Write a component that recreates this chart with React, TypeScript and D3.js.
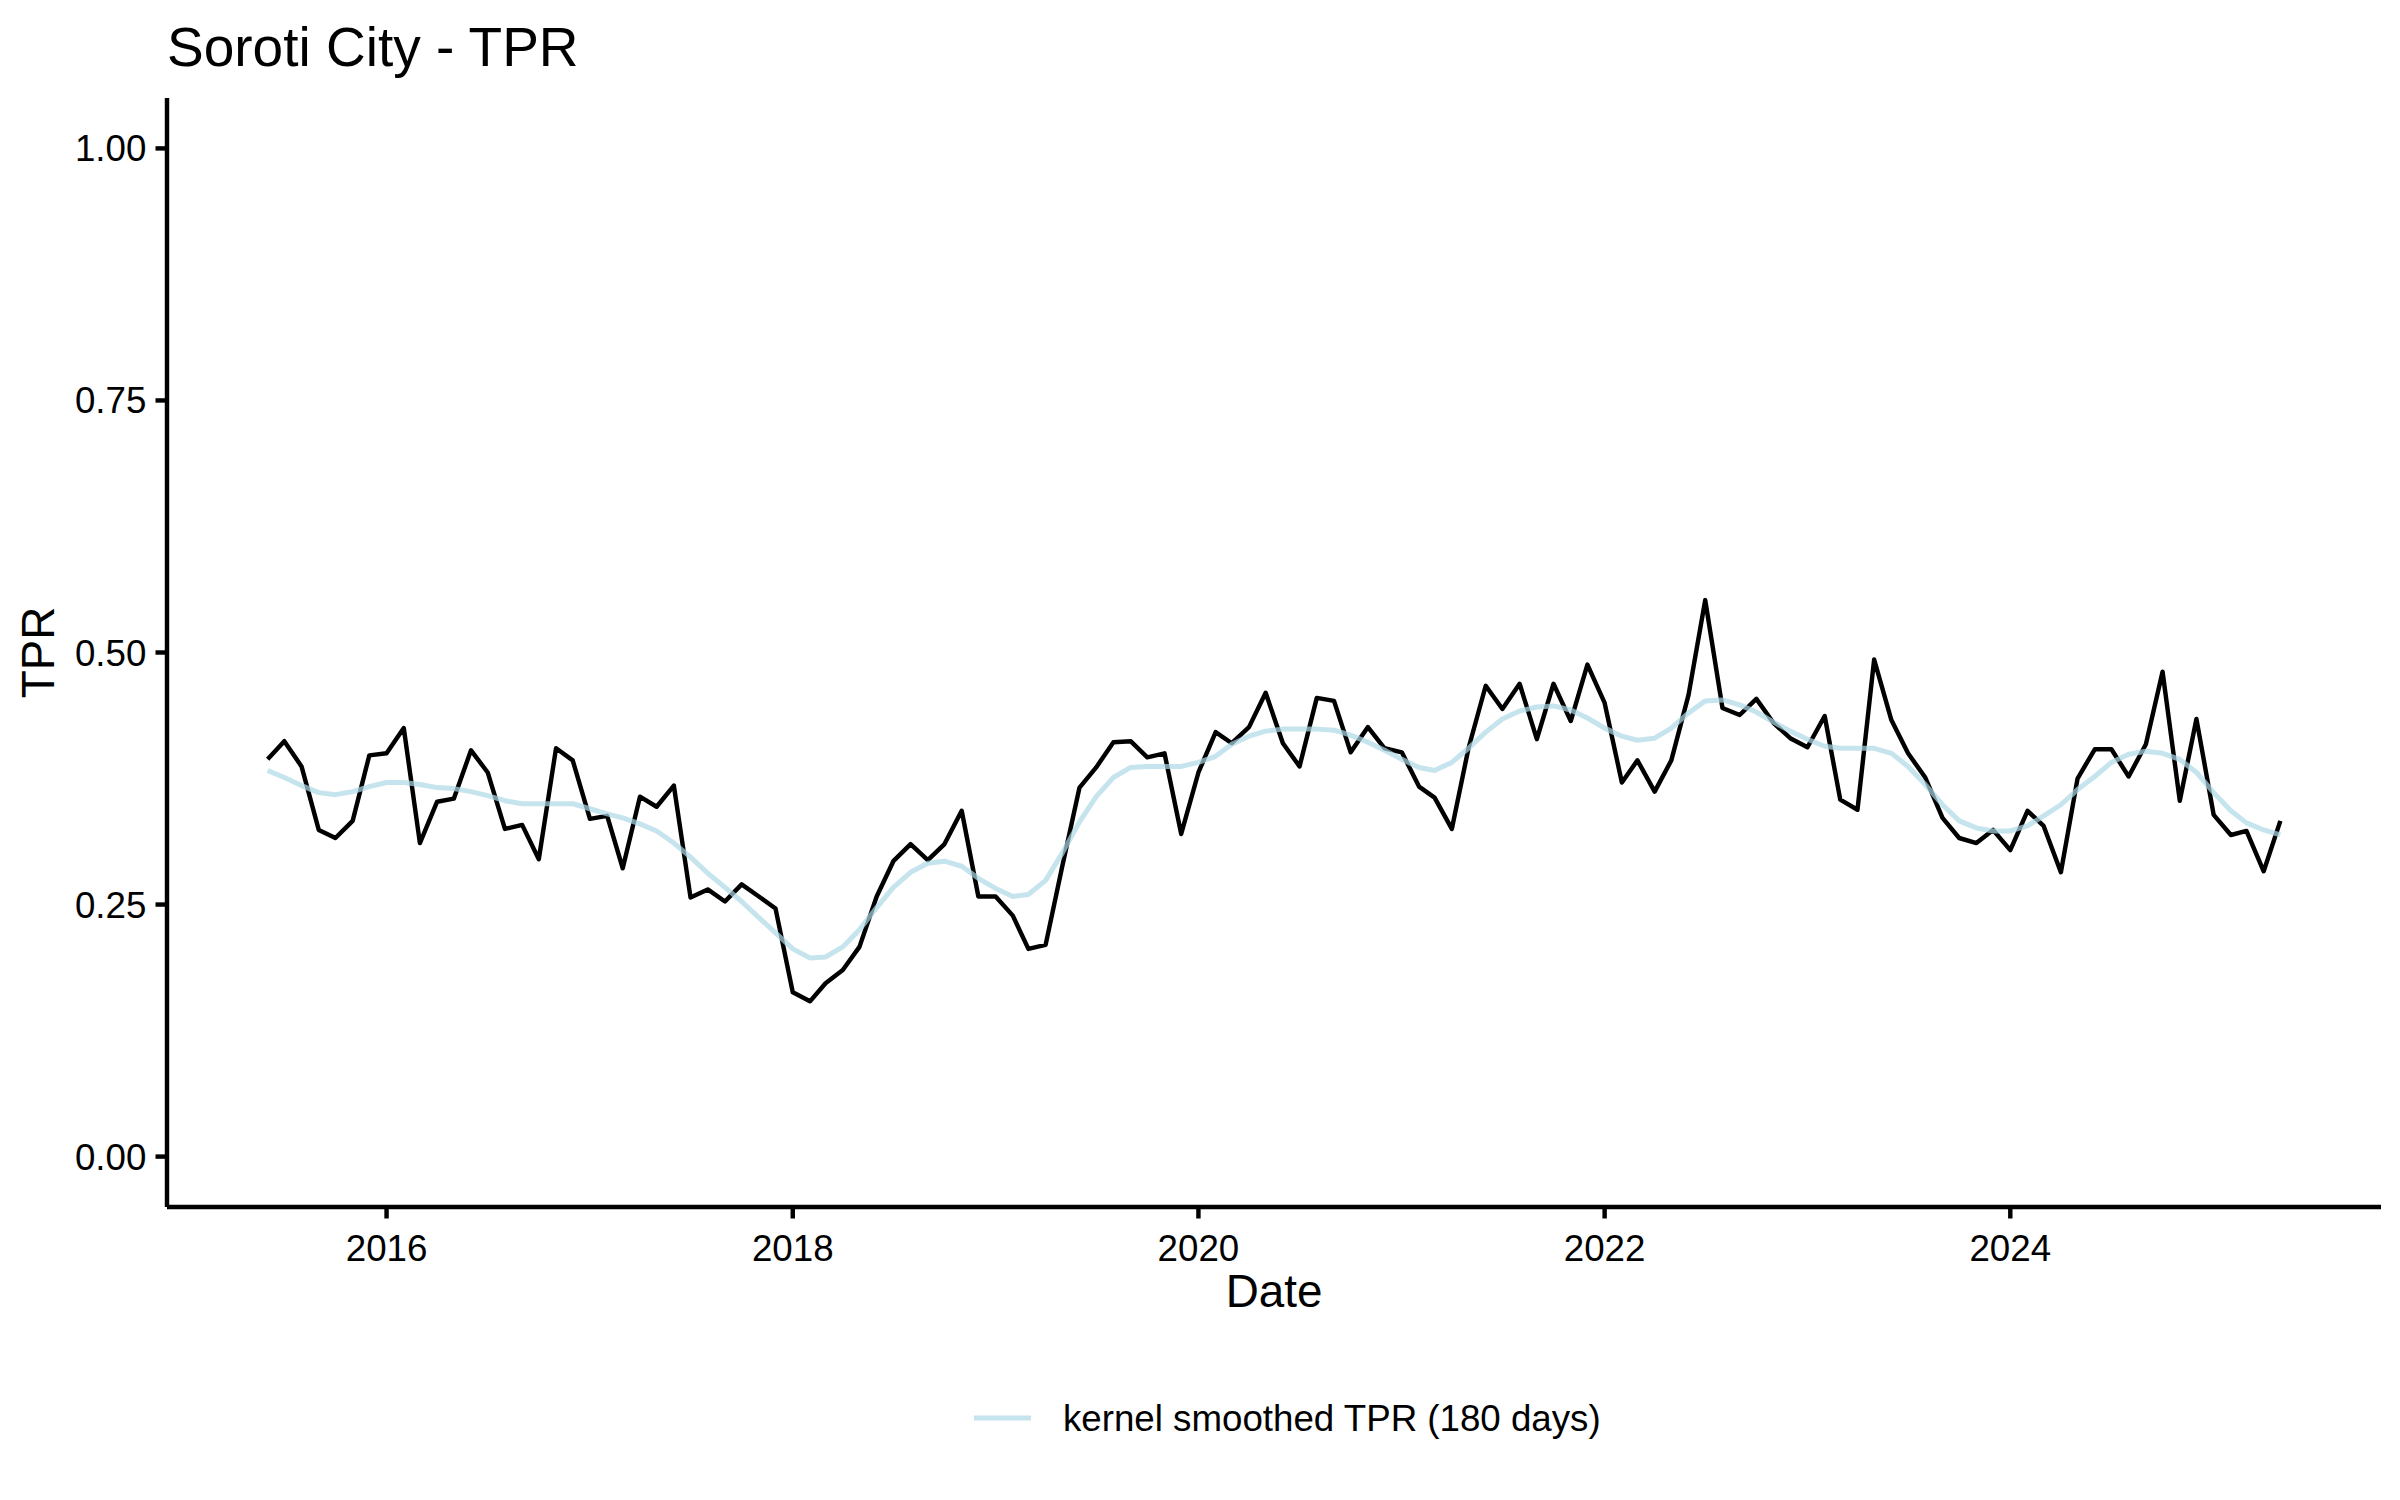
import React from "react";
import * as d3 from "d3";

const TITLE = "Soroti City - TPR";
const X_TITLE = "Date";
const Y_TITLE = "TPR";
const LEGEND_LABEL = "kernel smoothed TPR (180 days)";

const START_MONTH = "2015-06-01";
const END_MONTH = "2025-05-01";

const Y_TICKS = [0, 0.25, 0.5, 0.75, 1.0];
const X_TICK_YEARS = [2016, 2018, 2020, 2022, 2024];

const tpr = [
  0.394, 0.412, 0.387, 0.324, 0.316, 0.333, 0.398, 0.400, 0.425, 0.311,
  0.352, 0.355, 0.403, 0.381, 0.325, 0.329, 0.295, 0.405, 0.393, 0.335,
  0.338, 0.286, 0.357, 0.347, 0.368, 0.257, 0.265, 0.253, 0.270, 0.258,
  0.246, 0.163, 0.154, 0.172, 0.185, 0.208, 0.258, 0.293, 0.310, 0.294,
  0.310, 0.343, 0.258, 0.258, 0.239, 0.206, 0.210, 0.288, 0.366, 0.386,
  0.411, 0.412, 0.396, 0.400, 0.320, 0.381, 0.421, 0.410, 0.426, 0.460,
  0.410, 0.387, 0.455, 0.452, 0.401, 0.426, 0.405, 0.401, 0.367, 0.356,
  0.325, 0.405, 0.467, 0.444, 0.469, 0.414, 0.469, 0.432, 0.488, 0.450,
  0.371, 0.393, 0.362, 0.393, 0.458, 0.552, 0.445, 0.438, 0.454, 0.430,
  0.415, 0.406, 0.437, 0.354, 0.344, 0.493, 0.433, 0.400, 0.376, 0.336,
  0.316, 0.311, 0.324, 0.304, 0.343, 0.328, 0.282, 0.375, 0.404, 0.404,
  0.377, 0.409, 0.481, 0.353, 0.434, 0.339, 0.319, 0.323, 0.283, 0.333,
];

const smoothed = [
  0.383, 0.376, 0.368, 0.361, 0.359, 0.362, 0.367, 0.371, 0.371, 0.369,
  0.366, 0.365, 0.362, 0.358, 0.353, 0.350, 0.350, 0.350, 0.350, 0.345,
  0.340, 0.336, 0.330, 0.323, 0.311, 0.297, 0.281, 0.267, 0.253, 0.237,
  0.222, 0.206, 0.197, 0.198, 0.208, 0.225, 0.247, 0.267, 0.282, 0.291,
  0.293, 0.288, 0.276, 0.266, 0.258, 0.260, 0.274, 0.301, 0.332, 0.357,
  0.376, 0.386, 0.387, 0.387, 0.387, 0.391, 0.397, 0.409, 0.417, 0.422,
  0.424, 0.424, 0.424, 0.423, 0.418, 0.411, 0.403, 0.394, 0.386, 0.383,
  0.391, 0.405, 0.421, 0.434, 0.442, 0.446, 0.447, 0.443, 0.435, 0.425,
  0.417, 0.413, 0.415, 0.425, 0.440, 0.452, 0.453, 0.448, 0.441, 0.431,
  0.422, 0.414, 0.407, 0.405, 0.405, 0.405, 0.400, 0.387, 0.369, 0.349,
  0.333, 0.326, 0.323, 0.323, 0.328, 0.338, 0.349, 0.364, 0.377, 0.391,
  0.399, 0.402, 0.400, 0.394, 0.381, 0.361, 0.343, 0.331, 0.324, 0.319,
];

const FONT = "'Liberation Sans', Arial, Helvetica, sans-serif";
const W = 2400;
const H = 1500;
const PANEL = { left: 167, right: 2381, top: 98, bottom: 1207 };
const LW = 4.44;
const TICK = 11.5;

export default function App() {
  const start = new Date(START_MONTH + "T00:00:00Z");
  const end = new Date(END_MONTH + "T00:00:00Z");
  const dates = d3.utcMonth.range(start, d3.utcMonth.offset(end, 1));

  const span = end.getTime() - start.getTime();
  const xDomain = [new Date(start.getTime() - span * 0.05), new Date(end.getTime() + span * 0.05)];
  const x = d3.scaleUtc().domain(xDomain).range([PANEL.left, PANEL.right]);
  const y = d3.scaleLinear().domain([-0.05, 1.05]).range([PANEL.bottom, PANEL.top]);

  const rawData = dates.map((d, i) => ({ d, v: tpr[i] })).filter((p) => p.v !== undefined);
  const smData = dates.map((d, i) => ({ d, v: smoothed[i] })).filter((p) => p.v !== undefined);

  const line = d3
    .line<{ d: Date; v: number }>()
    .x((p) => x(p.d))
    .y((p) => y(p.v));

  const xTicks = X_TICK_YEARS.map((yr) => new Date(Date.UTC(yr, 0, 1)));
  const fmt = d3.format(".2f");

  const legendY = 1418;

  return (
    <svg
      width={W}
      height={H}
      viewBox={`0 0 ${W} ${H}`}
      style={{ position: "absolute", left: 0, top: 0, background: "#fff" }}
      fontFamily={FONT}
    >
      <rect x={0} y={0} width={W} height={H} fill="#fff" />
      {/* title */}
      <text x={PANEL.left} y={66} fontSize={55} fill="#000">
        {TITLE}
      </text>

      {/* data lines */}
      <path d={line(rawData) || ""} fill="none" stroke="#000" strokeWidth={LW} strokeLinejoin="round" />
      <path
        d={line(smData) || ""}
        fill="none"
        stroke="#ADD8E6"
        strokeOpacity={0.7}
        strokeWidth={5}
        strokeLinejoin="round"
      />

      {/* axes lines */}
      <line x1={PANEL.left} x2={PANEL.right} y1={PANEL.bottom} y2={PANEL.bottom} stroke="#000" strokeWidth={LW} />
      <line x1={PANEL.left} x2={PANEL.left} y1={PANEL.top} y2={PANEL.bottom} stroke="#000" strokeWidth={LW} />

      {/* y ticks */}
      {Y_TICKS.map((t) => (
        <g key={"y" + t}>
          <line x1={PANEL.left - TICK} x2={PANEL.left} y1={y(t)} y2={y(t)} stroke="#000" strokeWidth={LW} />
          <text x={PANEL.left - TICK - 9.2} y={y(t) + 13} fontSize={36.7} textAnchor="end" fill="#000">
            {fmt(t)}
          </text>
        </g>
      ))}

      {/* x ticks */}
      {xTicks.map((t, i) => (
        <g key={"x" + i}>
          <line x1={x(t)} x2={x(t)} y1={PANEL.bottom} y2={PANEL.bottom + TICK} stroke="#000" strokeWidth={LW} />
          <text x={x(t)} y={1261} fontSize={36.7} textAnchor="middle" fill="#000">
            {X_TICK_YEARS[i]}
          </text>
        </g>
      ))}

      {/* axis titles */}
      <text x={(PANEL.left + PANEL.right) / 2} y={1307} fontSize={45.8} textAnchor="middle" fill="#000">
        {X_TITLE}
      </text>
      <text
        transform={`translate(54, ${(PANEL.top + PANEL.bottom) / 2}) rotate(-90)`}
        fontSize={45.8}
        textAnchor="middle"
        fill="#000"
      >
        {Y_TITLE}
      </text>

      {/* legend */}
      <line x1={974} x2={1031} y1={legendY} y2={legendY} stroke="#ADD8E6" strokeOpacity={0.7} strokeWidth={5} />
      <text x={1063} y={legendY + 13} fontSize={36.7} fill="#000">
        {LEGEND_LABEL}
      </text>
    </svg>
  );
}
